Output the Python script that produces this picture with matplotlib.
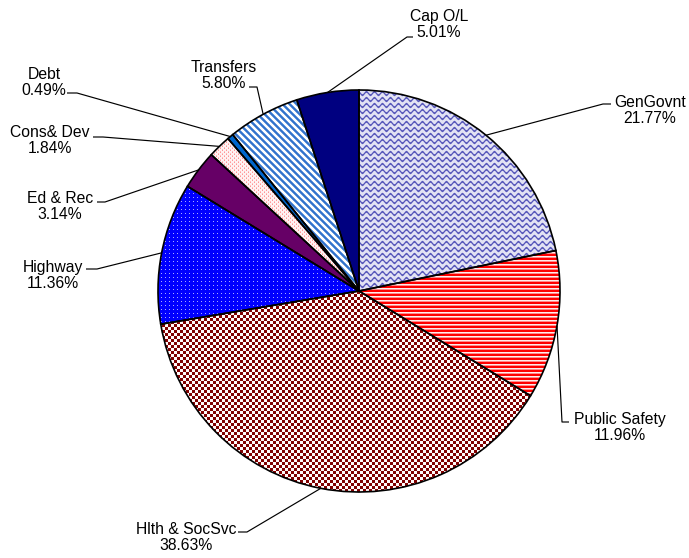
import numpy as np
import matplotlib
matplotlib.use("Agg")
import matplotlib.pyplot as plt

# Spending shares by function (percent)
categories = ["GenGovnt", "Public Safety", "Hlth & SocSvc", "Highway", "Ed & Rec",
              "Cons& Dev", "Debt", "Transfers", "Cap O/L"]
shares = [21.77, 11.96, 38.63, 11.36, 3.14, 1.84, 0.49, 5.80, 5.01]
pct_labels = ["21.77%", "11.96%", "38.63%", "11.36%", "3.14%", "1.84%", "0.49%", "5.80%", "5.01%"]

W, H = 689, 558
CX, CY, R = 359, 291, 201   # pie centre / radius in pixel units (y measured from top)

plt.rcParams["font.family"] = ["Liberation Sans", "DejaVu Sans"]

fig = plt.figure(figsize=(W / 100, H / 100), dpi=100)
ax = fig.add_axes([0, 0, 1, 1])

wedges, _ = ax.pie(shares, startangle=90, counterclock=False,
                   center=(CX, H - CY), radius=R, frame=True,
                   wedgeprops=dict(edgecolor="black", linewidth=1.2))

# ---- fill textures, built pixel by pixel ----
ii, jj = np.mgrid[0:H, 0:W].astype(float)


def solid(rgb):
    img = np.empty((H, W, 3))
    img[:] = np.array(rgb) / 255.0
    return img


def blend(a, b, t):
    a = np.array(a) / 255.0
    b = np.array(b) / 255.0
    t = np.clip(t, 0, 1)[..., None]
    return a * (1 - t) + b * t


def waves():
    d = np.mod(ii - 1.6 * np.sin(2 * np.pi * jj / 8.0), 6.0)
    t = np.clip(1.4 - np.abs(d - 3.0) / 1.1, 0, 1)
    return blend((226, 226, 244), (85, 85, 185), t)


def red_stripes():
    img = solid((255, 0, 0))
    m = np.mod(ii, 4)
    img[m == 0] = np.array((255, 236, 236)) / 255.0
    img[m == 1] = np.array((255, 140, 140)) / 255.0
    return img


def checker():
    c = (np.floor(ii / 3) + np.floor(jj / 3)) % 2 == 0
    img = solid((255, 250, 250))
    img[c] = np.array((128, 0, 0)) / 255.0
    return img


def blue_dots():
    img = solid((0, 0, 255))
    d = (np.mod(ii, 4) == 1) & (np.mod(jj, 4) == 1)
    img[d] = np.array((170, 170, 255)) / 255.0
    return img


def pink_dots():
    img = solid((255, 242, 242))
    d = (np.mod(ii, 2) == 0) & (np.mod(ii + jj, 4) == 0)
    img[d] = np.array((255, 150, 150)) / 255.0
    d2 = (np.mod(ii, 2) == 1) & (np.mod(ii + jj, 4) == 3)
    img[d2] = np.array((255, 190, 190)) / 255.0
    return img


def diag_stripes():
    d = np.mod(jj - ii, 7.0)
    t = np.clip(np.minimum(d, 7.0 - d) - 1.3, 0, 1)
    return blend((255, 255, 255), (50, 115, 205), t)


fills = [waves(), red_stripes(), checker(), blue_dots(), solid((102, 0, 102)),
         pink_dots(), solid((0, 102, 204)), diag_stripes(), solid((0, 0, 128))]

for w, img in zip(wedges, fills):
    w.set_facecolor("none")
    w.set_zorder(3)
    im = ax.imshow(img, extent=(0, W, 0, H), origin="upper",
                   interpolation="nearest", zorder=2)
    im.set_clip_path(w)

# ---- labels with leader lines ----
# (text centre x, text centre y, elbow point, line end near text), pixel coords
label_layout = [
    (650, 110.5, (603, 104), (611, 104)),
    (620, 427.5, (562, 422), (569, 422)),
    (186, 537.5, (247, 532), (238, 532)),
    (53, 275.5, (97, 269), (86, 269)),
    (60, 206.5, (105, 202), (97, 202)),
    (50, 140.5, (103, 137), (93, 137)),
    (44, 82.5, (77, 93), (67, 93)),
    (224, 75.5, (257, 87), (249, 87)),
    (439, 24.5, (407, 37), (413, 37)),
]

for w, name, pct, (tx, ty, elbow, end) in zip(wedges, categories, pct_labels, label_layout):
    mid = np.deg2rad((w.theta1 + w.theta2) / 2.0)
    ex = CX + R * np.cos(mid)
    ey = (H - CY) + R * np.sin(mid)
    xs = [ex, elbow[0], end[0]]
    ys = [ey, H - elbow[1], H - end[1]]
    ax.plot(xs, ys, color="black", lw=0.85, zorder=4, solid_capstyle="butt")
    ax.text(tx, H - ty, f"{name}\n{pct}", ha="center", va="center",
            fontsize=11.3, color="black", linespacing=1.15, zorder=5)

ax.set_xlim(0, W)
ax.set_ylim(0, H)
ax.set_aspect("auto")
ax.axis("off")

fig.savefig("out.png", dpi=100)
